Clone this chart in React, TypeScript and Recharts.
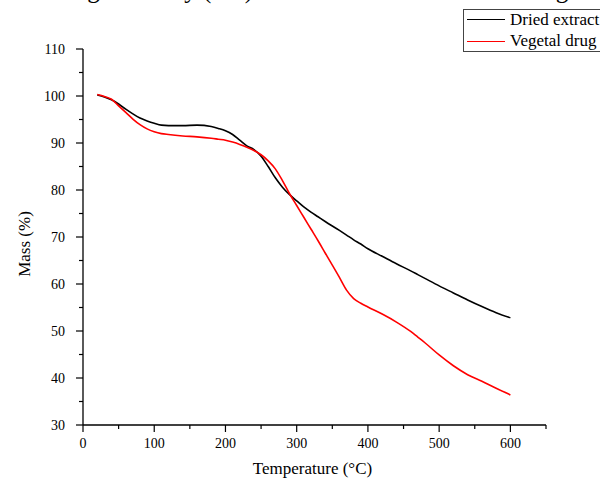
import { LineChart, Line, XAxis, YAxis, Label } from 'recharts'

const FONT = '"Liberation Serif", "Times New Roman", serif'

// temperature (°C)
const temps = [
  20, 30, 40, 50, 60, 70, 80, 90, 100, 110, 120, 140, 160, 180, 190, 200, 210, 220, 230, 240,
  250, 260, 270, 280, 290, 300, 310, 320, 330, 340, 360, 370, 380, 390, 400, 420, 440, 460, 470,
  480, 500, 520, 540, 560, 580, 600,
]

// mass (%)
const driedExtract = [
  100.2, 99.8, 99.2, 98.3, 97.2, 96.2, 95.3, 94.7, 94.2, 93.8, 93.7, 93.7, 93.8, 93.5, 93.1, 92.6,
  91.8, 90.6, 89.4, 88.6, 87.2, 85.0, 82.6, 80.6, 79.0, 77.7, 76.4, 75.3, 74.3, 73.3, 71.4, 70.4,
  69.4, 68.5, 67.5, 65.9, 64.3, 62.8, 62.0, 61.2, 59.6, 58.1, 56.6, 55.2, 53.9, 52.8,
]

const vegetalDrug = [
  100.3, 99.9, 99.3, 97.9, 96.5, 95.1, 93.9, 93.0, 92.4, 92.0, 91.8, 91.5, 91.3, 91.0, 90.8, 90.6,
  90.2, 89.7, 89.1, 88.4, 87.5, 86.2, 84.5, 82.0, 79.2, 76.7, 74.2, 71.7, 69.2, 66.6, 61.4, 58.7,
  56.9, 55.9, 55.1, 53.6, 51.9, 49.9, 48.7, 47.5, 44.9, 42.6, 40.7, 39.3, 37.8, 36.4,
]

const xTicks = [0, 50, 100, 150, 200, 250, 300, 350, 400, 450, 500, 550, 600, 650]
const yTicks = [30, 35, 40, 45, 50, 55, 60, 65, 70, 75, 80, 85, 90, 95, 100, 105, 110]

const data = temps.map((t, i) => ({ t, dried: driedExtract[i], vegetal: vegetalDrug[i] }))

function XTick({ x, y, payload }: any) {
  const major = payload.value % 100 === 0
  return (
    <g>
      <line x1={x} y1={y} x2={x} y2={y + (major ? 7 : 4)} stroke="#000" strokeWidth={1.2} />
      {major && payload.value <= 600 && (
        <text x={x} y={y + 23} textAnchor="middle" fontSize={14} fontFamily={FONT} fill="#000">
          {payload.value}
        </text>
      )}
    </g>
  )
}

function YTick({ x, y, payload }: any) {
  const major = payload.value % 10 === 0
  return (
    <g>
      <line x1={x} y1={y} x2={x - (major ? 7 : 4)} y2={y} stroke="#000" strokeWidth={1.2} />
      {major && (
        <text x={x - 18} y={y + 5} textAnchor="end" fontSize={14} fontFamily={FONT} fill="#000">
          {payload.value}
        </text>
      )}
    </g>
  )
}

function XTitle({ viewBox }: any) {
  return (
    <text x={viewBox.x + viewBox.width / 2 - 2} y={474} textAnchor="middle" fontSize={17} fontFamily={FONT} fill="#000">
      Temperature (°C)
    </text>
  )
}

function YTitle({ viewBox }: any) {
  const cx = 30
  const cy = viewBox.y + viewBox.height / 2 + 7
  return (
    <text x={cx} y={cy} transform={`rotate(-90 ${cx} ${cy})`} textAnchor="middle" fontSize={17} fontFamily={FONT} fill="#000">
      Mass (%)
    </text>
  )
}

export default function App() {
  return (
    <div style={{ position: 'absolute', left: 0, top: 0, width: 600, height: 479, overflow: 'hidden', background: '#fff' }}>
      <div
        style={{
          position: 'absolute', left: 8, top: -23, fontSize: 25, lineHeight: 1,
          fontFamily: FONT, whiteSpace: 'nowrap', color: '#000',
        }}
      >
        Thermogravimetry (TG) curves of dried extract and vegetal drug
      </div>

      <LineChart width={600} height={479} data={data} margin={{ top: 49, right: 54, left: 23, bottom: 0 }}>
        <XAxis
          type="number"
          dataKey="t"
          domain={[0, 650]}
          ticks={xTicks}
          interval={0}
          height={54}
          tickLine={false}
          tickSize={0}
          tickMargin={0}
          tick={<XTick />}
          axisLine={{ stroke: '#000', strokeWidth: 1.3 }}
        >
          <Label content={<XTitle />} />
        </XAxis>
        <YAxis
          type="number"
          domain={[30, 110]}
          ticks={yTicks}
          interval={0}
          width={60}
          tickLine={false}
          tickSize={0}
          tickMargin={0}
          tick={<YTick />}
          axisLine={{ stroke: '#000', strokeWidth: 1.3 }}
        >
          <Label content={<YTitle />} />
        </YAxis>
        <Line type="monotone" dataKey="dried" stroke="#000" strokeWidth={1.6} dot={false} isAnimationActive={false} />
        <Line type="monotone" dataKey="vegetal" stroke="#ff0000" strokeWidth={1.6} dot={false} isAnimationActive={false} />
      </LineChart>

      <div
        style={{
          position: 'absolute', left: 463, top: 9, width: 150, height: 41,
          border: '1px solid #444', background: '#fff', fontFamily: FONT, fontSize: 17,
        }}
      >
        <div style={{ position: 'absolute', left: 3, top: 9, width: 38, height: 0, borderTop: '1.6px solid #000' }} />
        <div style={{ position: 'absolute', left: 46, top: 0, lineHeight: '20px', whiteSpace: 'nowrap' }}>Dried extract</div>
        <div style={{ position: 'absolute', left: 3, top: 31, width: 38, height: 0, borderTop: '1.6px solid #ff0000' }} />
        <div style={{ position: 'absolute', left: 46, top: 21, lineHeight: '20px', whiteSpace: 'nowrap' }}>Vegetal drug</div>
      </div>
    </div>
  )
}
